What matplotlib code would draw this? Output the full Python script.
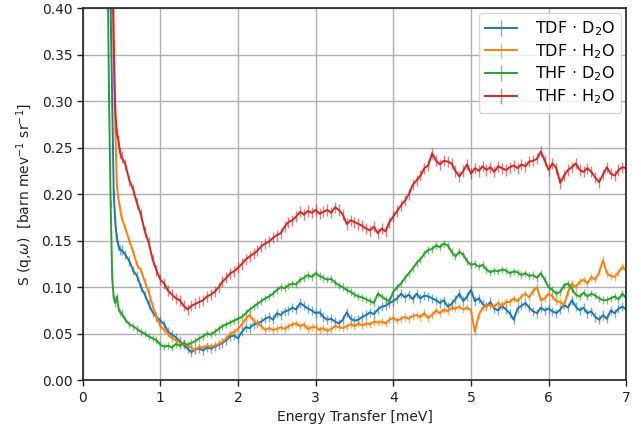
import matplotlib
matplotlib.use("Agg")
import matplotlib.pyplot as plt
import numpy as np

# energy grid: fine near the elastic line, 0.05 meV steps afterwards
energy = np.round(np.concatenate([np.arange(0.30, 0.49, 0.02),
                                  np.arange(0.50, 7.001, 0.05)]), 3)

tdf_d2o = [
    1.00, 0.80, 0.55, 0.40, 0.30, 0.20, 0.17, 0.152, 0.145, 0.140,
    0.140, 0.135, 0.128, 0.118, 0.112, 0.100, 0.092, 0.082, 0.073, 0.068,
    0.064, 0.060, 0.052, 0.049, 0.046, 0.042, 0.038, 0.034, 0.030, 0.033,
    0.034, 0.032, 0.035, 0.034, 0.036, 0.038, 0.040, 0.043, 0.047, 0.048,
    0.045, 0.052, 0.057, 0.056, 0.060, 0.061, 0.063, 0.066, 0.068, 0.065,
    0.072, 0.070, 0.074, 0.075, 0.078, 0.076, 0.083, 0.080, 0.077, 0.075,
    0.072, 0.073, 0.068, 0.065, 0.066, 0.063, 0.061, 0.065, 0.073, 0.066,
    0.064, 0.065, 0.068, 0.070, 0.073, 0.071, 0.076, 0.079, 0.080, 0.083,
    0.085, 0.088, 0.093, 0.089, 0.092, 0.087, 0.093, 0.088, 0.091, 0.090,
    0.088, 0.086, 0.083, 0.086, 0.079, 0.082, 0.087, 0.093, 0.085, 0.090,
    0.097, 0.085, 0.088, 0.082, 0.079, 0.084, 0.077, 0.075, 0.080, 0.076,
    0.072, 0.065, 0.077, 0.080, 0.083, 0.078, 0.074, 0.072, 0.078, 0.075,
    0.077, 0.074, 0.072, 0.076, 0.081, 0.078, 0.086, 0.079, 0.075, 0.078,
    0.072, 0.074, 0.068, 0.065, 0.070, 0.066, 0.075, 0.072, 0.077, 0.079,
    0.076,
]

tdf_h2o = [
    1.50, 1.20, 0.90, 0.65, 0.45, 0.34, 0.27, 0.21, 0.195, 0.185,
    0.175, 0.163, 0.150, 0.138, 0.124, 0.118, 0.106, 0.095, 0.080, 0.068,
    0.058, 0.054, 0.050, 0.045, 0.043, 0.040, 0.039, 0.037, 0.035, 0.032,
    0.036, 0.035, 0.037, 0.036, 0.037, 0.039, 0.041, 0.045, 0.050, 0.052,
    0.055, 0.060, 0.066, 0.070, 0.064, 0.061, 0.058, 0.054, 0.056, 0.054,
    0.055, 0.057, 0.055, 0.058, 0.060, 0.061, 0.058, 0.060, 0.055, 0.057,
    0.057, 0.054, 0.056, 0.053, 0.055, 0.058, 0.057, 0.056, 0.058, 0.060,
    0.058, 0.061, 0.059, 0.061, 0.060, 0.063, 0.062, 0.063, 0.061, 0.065,
    0.067, 0.064, 0.066, 0.068, 0.066, 0.069, 0.070, 0.068, 0.072, 0.067,
    0.070, 0.075, 0.072, 0.076, 0.074, 0.078, 0.077, 0.079, 0.076, 0.078,
    0.075, 0.052, 0.070, 0.078, 0.080, 0.081, 0.079, 0.083, 0.080, 0.084,
    0.084, 0.088, 0.085, 0.090, 0.093, 0.089, 0.096, 0.100, 0.086, 0.088,
    0.093, 0.090, 0.085, 0.084, 0.081, 0.095, 0.104, 0.100, 0.106, 0.108,
    0.104, 0.111, 0.108, 0.116, 0.129, 0.115, 0.112, 0.111, 0.116, 0.122,
    0.118,
]

thf_d2o = [
    0.90, 0.45, 0.30, 0.19, 0.11, 0.088, 0.083, 0.090, 0.078, 0.073,
    0.072, 0.065, 0.060, 0.058, 0.055, 0.052, 0.050, 0.047, 0.045, 0.043,
    0.038, 0.036, 0.037, 0.035, 0.039, 0.037, 0.040, 0.038, 0.040, 0.042,
    0.045, 0.047, 0.050, 0.049, 0.052, 0.055, 0.058, 0.060, 0.062, 0.064,
    0.066, 0.068, 0.072, 0.076, 0.079, 0.082, 0.085, 0.088, 0.090, 0.093,
    0.097, 0.100, 0.099, 0.102, 0.104, 0.103, 0.108, 0.110, 0.113, 0.111,
    0.115, 0.112, 0.110, 0.108, 0.109, 0.105, 0.102, 0.100, 0.097, 0.095,
    0.092, 0.090, 0.089, 0.087, 0.085, 0.083, 0.093, 0.090, 0.087, 0.085,
    0.095, 0.100, 0.104, 0.110, 0.115, 0.120, 0.126, 0.130, 0.136, 0.140,
    0.141, 0.145, 0.143, 0.147, 0.145, 0.138, 0.133, 0.138, 0.135, 0.128,
    0.124, 0.125, 0.122, 0.124, 0.119, 0.116, 0.118, 0.117, 0.119, 0.118,
    0.115, 0.117, 0.116, 0.113, 0.115, 0.112, 0.113, 0.110, 0.115, 0.108,
    0.100, 0.097, 0.093, 0.095, 0.102, 0.104, 0.098, 0.092, 0.090, 0.094,
    0.090, 0.093, 0.091, 0.088, 0.086, 0.086, 0.088, 0.090, 0.087, 0.093,
    0.088,
]

thf_h2o = [
    1.60, 1.30, 1.00, 0.75, 0.52, 0.36, 0.29, 0.265, 0.258, 0.245,
    0.240, 0.232, 0.215, 0.205, 0.190, 0.178, 0.160, 0.148, 0.130, 0.118,
    0.108, 0.104, 0.096, 0.092, 0.088, 0.086, 0.080, 0.076, 0.080, 0.082,
    0.084, 0.086, 0.090, 0.092, 0.095, 0.100, 0.106, 0.110, 0.115, 0.117,
    0.121, 0.125, 0.130, 0.133, 0.136, 0.139, 0.144, 0.147, 0.149, 0.153,
    0.156, 0.158, 0.165, 0.170, 0.172, 0.176, 0.181, 0.178, 0.182, 0.180,
    0.183, 0.179, 0.181, 0.183, 0.180, 0.186, 0.183, 0.178, 0.168, 0.172,
    0.170, 0.168, 0.166, 0.163, 0.161, 0.165, 0.158, 0.163, 0.160, 0.170,
    0.176, 0.182, 0.188, 0.193, 0.200, 0.210, 0.215, 0.220, 0.228, 0.231,
    0.244, 0.236, 0.232, 0.236, 0.235, 0.233, 0.225, 0.219, 0.225, 0.232,
    0.222, 0.228, 0.225, 0.230, 0.226, 0.229, 0.224, 0.230, 0.228, 0.226,
    0.229, 0.231, 0.228, 0.232, 0.230, 0.235, 0.236, 0.238, 0.246, 0.236,
    0.226, 0.233, 0.228, 0.212, 0.220, 0.226, 0.229, 0.233, 0.226, 0.224,
    0.228, 0.224, 0.218, 0.213, 0.221, 0.229, 0.222, 0.220, 0.226, 0.229,
    0.228,
]

series = [
    (r"TDF $\cdot$ D$_2$O", tdf_d2o, 0.005, "tab:blue"),
    (r"TDF $\cdot$ H$_2$O", tdf_h2o, 0.004, "tab:orange"),
    (r"THF $\cdot$ D$_2$O", thf_d2o, 0.004, "tab:green"),
    (r"THF $\cdot$ H$_2$O", thf_h2o, 0.006, "tab:red"),
]

fig = plt.figure(figsize=(6.41, 4.32), dpi=100)
ax = fig.add_axes([0.129, 0.12, 0.848, 0.861])

for label, values, err, color in series:
    ax.errorbar(energy, values, yerr=err, color=color, lw=1.4,
                elinewidth=1.0, ecolor=matplotlib.colors.to_rgba(color, 0.6),
                label=label)

ax.set_xlim(0, 7)
ax.set_ylim(0, 0.40)
ax.set_xticks(np.arange(0, 8, 1))
ax.set_yticks(np.arange(0, 0.41, 0.05))
ax.yaxis.set_major_formatter(matplotlib.ticker.FormatStrFormatter("%.2f"))
ax.grid(True, color="#b0b0b0", lw=1.0)
ax.set_axisbelow(True)
for side in ["left", "bottom", "top", "right"]:
    ax.spines[side].set_color("#222222")
    ax.spines[side].set_linewidth(1.2)
ax.tick_params(labelsize=10, length=4, width=1.0, colors="#222222")

ax.set_xlabel("Energy Transfer [meV]", fontsize=10, color="#222222")
ax.set_ylabel(r"S (q,$\omega$)  [barn mev$^{-1}$ sr$^{-1}$]", fontsize=10,
              color="#222222")
ax.legend(loc="upper right", fontsize=11.5, handlelength=2.0,
          handletextpad=1.1, labelspacing=0.25, borderaxespad=0.3)

fig.savefig("out.png", dpi=100)
